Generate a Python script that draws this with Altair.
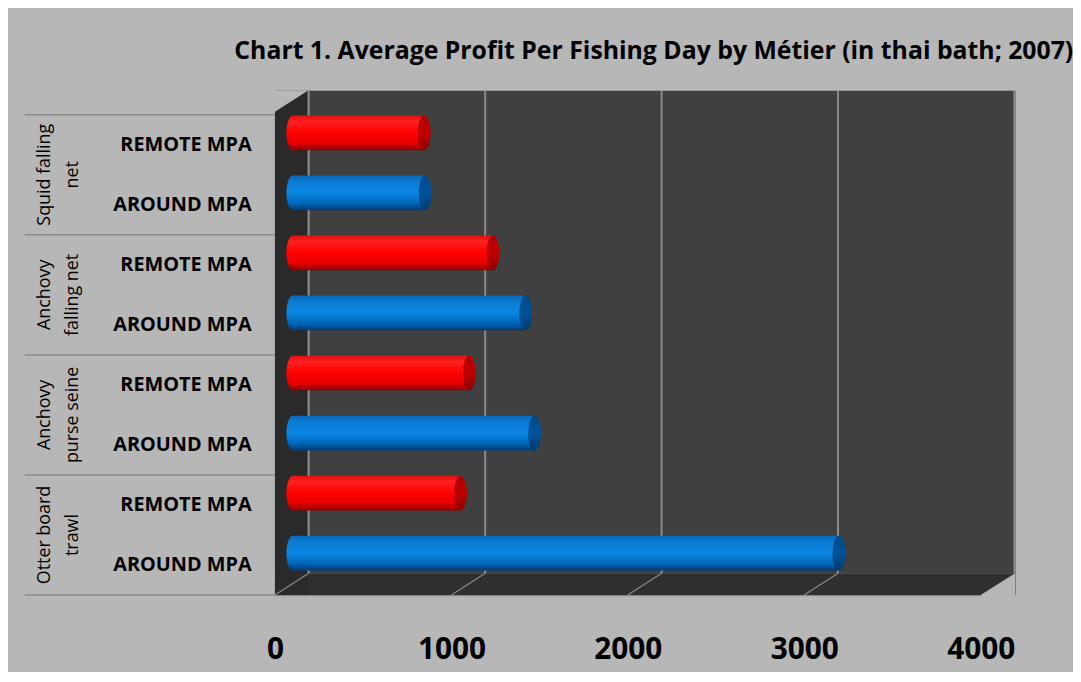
import altair as alt
import pandas as pd

TITLE = "Chart 1. Average Profit Per Fishing Day by Métier (in thai bath; 2007)"
groups = ["Squid falling net", "Anchovy falling net", "Anchovy purse seine", "Otter board trawl"]
group_labels = ["Squid falling\nnet", "Anchovy\nfalling net", "Anchovy\npurse seine", "Otter board\ntrawl"]
series = ["REMOTE MPA", "AROUND MPA"]
remote = [745, 1135, 1000, 950]
around = [750, 1320, 1370, 3095]
x_ticks = [0, 1000, 2000, 3000, 4000]

FONT = "Open Sans"
BG = "#b7b7b7"
GRID = "#8a8a8a"

rows = []
for g, gl, r, a in zip(groups, group_labels, remote, around):
    rows.append({"key": f"{g}|{series[0]}", "group": g, "glabel": gl, "series": series[0], "start": 0, "value": r})
    rows.append({"key": f"{g}|{series[1]}", "group": g, "glabel": gl, "series": series[1], "start": 0, "value": a})
df = pd.DataFrame(rows)
order = list(df["key"])

frame = pd.DataFrame({"lo": [x_ticks[0]], "hi": [x_ticks[-1]]})
ticks = pd.DataFrame({"t": x_ticks})
floor_ticks = pd.DataFrame({"t": x_ticks[:-1]})

BAND = 484 / len(order)

xs = alt.Scale(domain=[x_ticks[0], x_ticks[-1]], nice=False, zero=True)
ys = alt.Scale(domain=order, paddingInner=0, paddingOuter=0)
X_AXIS = alt.Axis(values=x_ticks, format="d", title=None, grid=False, ticks=False, domain=True,
                  domainColor=GRID, domainWidth=1.5, labelFont=FONT, labelFontSize=30,
                  labelFontWeight="bold", labelColor="#000000", labelPadding=40,
                  labelFlush=False, labelOverlap=False, labelBound=False)
Y_AXIS = alt.Axis(title=None, grid=False, ticks=False, domain=True, domainColor=GRID,
                  domainWidth=1.5, labelFont=FONT, labelFontSize=20, labelFontWeight="bold",
                  labelColor="#000000", labelPadding=24, labelLimit=400,
                  labelExpr="split(datum.label, '|')[1]")

def X(f):
    return alt.X(f, type="quantitative", scale=xs, axis=X_AXIS)

def Y(f):
    return alt.Y(f, type="nominal", scale=ys, axis=Y_AXIS)

red_grad = alt.Gradient(gradient="linear", x1=0, y1=0, x2=0, y2=1, stops=[
    alt.GradientStop(color="#e01010", offset=0),
    alt.GradientStop(color="#ff2020", offset=0.18),
    alt.GradientStop(color="#ff0000", offset=0.5),
    alt.GradientStop(color="#e80000", offset=0.78),
    alt.GradientStop(color="#900000", offset=1)])
blue_grad = alt.Gradient(gradient="linear", x1=0, y1=0, x2=0, y2=1, stops=[
    alt.GradientStop(color="#0a68b8", offset=0),
    alt.GradientStop(color="#0a7ed6", offset=0.2),
    alt.GradientStop(color="#0a86e2", offset=0.5),
    alt.GradientStop(color="#0066b8", offset=0.8),
    alt.GradientStop(color="#003a72", offset=1)])
red_cap = alt.Gradient(gradient="linear", x1=0, y1=0, x2=0, y2=1, stops=[
    alt.GradientStop(color="#b00000", offset=0),
    alt.GradientStop(color="#c00000", offset=0.5),
    alt.GradientStop(color="#8a0000", offset=1)])
blue_cap = alt.Gradient(gradient="linear", x1=0, y1=0, x2=0, y2=1, stops=[
    alt.GradientStop(color="#004a88", offset=0),
    alt.GradientStop(color="#00549a", offset=0.5),
    alt.GradientStop(color="#003a70", offset=1)])

ELLIPSE = "M-0.37,0 A0.37,1 0 1,1 0.37,0 A0.37,1 0 1,1 -0.37,0 Z"
TRI_TL = "M0,0 L2,0 L0,1.27 Z"
TRI_BR = "M0,0 L2.1,0 L2.1,-1.33 Z"

DX = 18   # depth shift of bars
DY = -12
WALL = 34

wall = alt.Chart(frame).mark_rect(fill="#404040", xOffset=WALL - 1, x2Offset=WALL + 1).encode(
    x=X("lo"), x2="hi", y=alt.value(-24), y2=alt.value(462))
floor = alt.Chart(frame).mark_rect(fill="#2f2f2f", x2Offset=WALL + 1).encode(
    x=X("lo"), x2="hi", y=alt.value(462), y2=alt.value(484))
side = alt.Chart(frame).mark_rect(fill="#2a2a2a", x2Offset=WALL - 1).encode(
    x=X("lo"), x2="lo", y=alt.value(-24), y2=alt.value(484))
cut_tl = alt.Chart(frame).mark_point(shape=TRI_TL, size=(WALL - 1) ** 2, filled=True, fill=BG,
                                     opacity=1, strokeWidth=0).encode(x=X("lo"), y=alt.value(-24))
cut_br = alt.Chart(frame).mark_point(shape=TRI_BR, size=(WALL - 1) ** 2, filled=True, fill=BG,
                                     opacity=1, strokeWidth=0).encode(x=X("hi"), y=alt.value(484))
grid = alt.Chart(ticks).mark_rule(color=GRID, strokeWidth=2, xOffset=WALL).encode(
    x=X("t"), y=alt.value(-24), y2=alt.value(462))
floor_grid = alt.Chart(floor_ticks).mark_rule(color=GRID, strokeWidth=1.2, x2Offset=WALL).encode(
    x=X("t"), x2="t", y=alt.value(484), y2=alt.value(462))

first_rows = df[df["series"] == series[0]]
last_row = df.iloc[[-1]]
sep = alt.Chart(first_rows).mark_rule(color=GRID, strokeWidth=1.5, yOffset=-BAND / 2).encode(
    y=Y("key"), x=alt.value(-252), x2=alt.value(0))
sep_bottom = alt.Chart(last_row).mark_rule(color=GRID, strokeWidth=1.5, yOffset=BAND / 2).encode(
    y=Y("key"), x=alt.value(-252), x2=alt.value(0))

def bars(s, grad, cap):
    d = df[df["series"] == s]
    body = alt.Chart(d).mark_bar(fill=grad, size=35, xOffset=DX, x2Offset=DX, yOffset=DY).encode(
        x=X("start"), x2="value", y=Y("key"))
    left = alt.Chart(d).mark_point(shape=ELLIPSE, size=35 ** 2, filled=True, fill=grad, opacity=1,
                                   strokeWidth=0, xOffset=DX, yOffset=DY).encode(
        x=X("start"), y=Y("key"))
    right = alt.Chart(d).mark_point(shape=ELLIPSE, size=35 ** 2, filled=True, fill=cap, opacity=1,
                                    strokeWidth=0, xOffset=DX, yOffset=DY).encode(
        x=X("value"), y=Y("key"))
    return [body, left, right]

glabels = alt.Chart(first_rows).mark_text(angle=270, lineBreak="\n", lineHeight=29, font=FONT,
                                          fontSize=18, align="center", baseline="middle",
                                          color="#000000", yOffset=BAND / 2).encode(
    y=Y("key"), x=alt.value(-232), text="glabel:N")

title = alt.Chart(pd.DataFrame({"t": [TITLE]})).mark_text(
    font=FONT, fontSize=25, fontWeight="bold", align="left", baseline="alphabetic",
    color="#000000").encode(x=alt.value(-41), y=alt.value(-56), text="t:N")

layers = [wall, floor, side, cut_tl, cut_br, grid, floor_grid, sep, sep_bottom]
layers += bars(series[0], red_grad, red_cap)
layers += bars(series[1], blue_grad, blue_cap)
layers += [glabels, title]

chart = alt.layer(*layers).properties(
    width=711, height=484,
    autosize=alt.AutoSizeParams(type="none"),
    padding={"left": 269, "top": 105, "right": 93, "bottom": 75},
    background=BG,
).configure_view(stroke=None)

chart.save("out.html", embed_options={"renderer": "svg", "actions": False})
